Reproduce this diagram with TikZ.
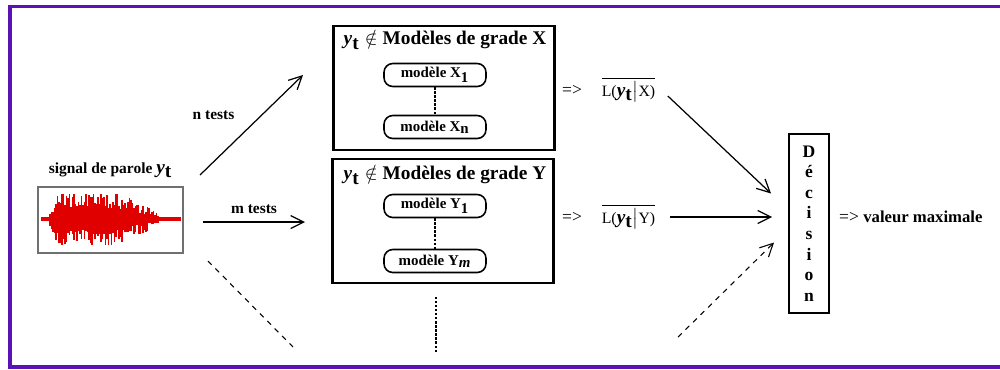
\documentclass[tikz,border=0pt]{standalone}
\usepackage{fontspec}
\setmainfont{Liberation Serif}
\usepackage{tikz}
\usetikzlibrary{
  arrows.meta,
  positioning,
  calc
}
\definecolor{FramePurple}{HTML}{5A12B6}
\definecolor{SignalRed}{HTML}{E00000}
\definecolor{SignalGray}{HTML}{707070}
\newcommand{\yt}{\textbf{\textit{y}}$_{\textbf{t}}$}
\tikzset{
  gradebox/.style={
    draw,
    line width=1.4pt,
    minimum width=4.42cm,
    minimum height=2.48cm
  },
  gradetitle/.style={
    font=\bfseries\fontsize{11}{13}\selectfont,
    inner sep=0pt
  },
  modele/.style={
    draw,
    rounded corners=5pt,
    line width=0.9pt,
    minimum width=2.04cm,
    minimum height=0.46cm,
    inner sep=0pt,
    font=\bfseries\fontsize{8.5}{10}\selectfont
  },
  signalbox/.style={
    draw=SignalGray,
    line width=0.8pt,
    minimum width=2.9cm,
    minimum height=1.32cm
  },
  decision/.style={
    draw,
    line width=1.1pt,
    minimum width=0.8cm,
    minimum height=3.58cm,
    align=center,
    font=\bfseries\fontsize{10}{11.75}\selectfont
  },
  label/.style={
    font=\bfseries\fontsize{8.8}{10}\selectfont
  },
  wave/.style={
    SignalRed,
    line width=0.9pt
  },
  link/.style={
    -{Straight Barb[length=2.6mm,width=2.6mm]},
    line width=0.7pt
  },
  suite/.style={
    dashed,
    line width=0.6pt
  },
  points/.style={
    densely dotted,
    line width=1.3pt
  }
}

\begin{document}
\begin{tikzpicture}[x=0.02cm,y=-0.02cm,font=\fontsize{10}{12}\selectfont]

  \useasboundingbox (0,0) rectangle (1000,369);

  \draw[FramePurple, line width=2.2pt]
  (1010,6.5) -- (10,6.5) -- (10,367) -- (1010,367);

  \node[signalbox] at (110.5,220) (sig) {};

  \node[
    label,
    above=0.5mm of sig
  ] (sigtitle) {
    signal de parole \fontsize{11}{12}\selectfont\yt
  };

  \draw[SignalRed, line width=1.8pt]
  (41,219) -- (181,219);

  \pgfmathsetseed{11}
  \foreach \x in {50,51.5,...,158} {
    \pgfmathsetmacro{\env}{min(min((\x-48)*3.5, 30), (162-\x)*0.55+4)}
    \pgfmathsetmacro{\up}{min(25,\env*(0.35+0.65*rnd))}
    \pgfmathsetmacro{\dn}{min(26,\env*(0.35+0.65*rnd))}
    \draw[wave] (\x,219-\up) -- (\x,219+\dn);
  }

  \node[gradebox] at (444,88) (gradex) {};
  \node[gradebox] at (443,221) (gradey) {};

  \node[gradetitle] at (445,40) (titlex) {
    \yt\;$\notin$ Modèles de grade X
  };
  \node[gradetitle] at (445,175) (titley) {
    \yt\;$\notin$ Modèles de grade Y
  };

  \node[modele] at (435,75) (x1) {modèle X$_{\textbf{1}}$};
  \node[modele] at (435,127) (xn) {modèle X$_{\textbf{n}}$};
  \node[modele] at (435,206) (y1) {modèle Y$_{\textbf{1}}$};
  \node[modele] at (435,261) (ym) {modèle Y$_{\textbf{\textit{m}}}$};

  \draw[points] (x1.south) -- (xn.north);
  \draw[points] (y1.south) -- (ym.north);

  \coordinate (autres) at (436,297);
  \coordinate (autresfin) at (436,352);
  \draw[points] (autres) -- (autresfin);

  \coordinate (ntestsdebut) at (200,175);
  \coordinate (ntestsfin) at (303,75);
  \coordinate (mtestsdebut) at (203,222);
  \coordinate (mtestsfin) at (305,222);
  \coordinate (suitedebut) at (208,261);
  \coordinate (suitefin) at (293,347);

  \draw[link]
  (ntestsdebut) --
  node[
    label,
    pos=0.6,
    left=0.42cm
  ] {
    n tests
  }
  (ntestsfin);

  \draw[link]
  (mtestsdebut) --
  node[
    label,
    above=1pt
  ] {
    m tests
  }
  (mtestsfin);

  \draw[suite] (suitedebut) -- (suitefin);

  \node at (572,90) (impx) {=>};
  \node[right=0.15cm of impx] (lx) {
    $\overline{\mbox{\fontsize{9}{10}\selectfont L(}\mbox{\fontsize{11}{12}\selectfont\yt}\big|\mbox{\fontsize{9}{10}\selectfont X)}}$
  };

  \node at (572,217) (impy) {=>};
  \node[right=0.15cm of impy] (ly) {
    $\overline{\mbox{\fontsize{9}{10}\selectfont L(}\mbox{\fontsize{11}{12}\selectfont\yt}\big|\mbox{\fontsize{9}{10}\selectfont Y)}}$
  };

  \node[decision] at (809,223.5) (dec) {
    D\\é\\c\\i\\s\\i\\o\\n
  };

  \node[
    anchor=west,
    xshift=0.06cm
  ] at (dec.east |- ly) (res) {
    => \textbf{\fontsize{9.5}{11}\selectfont valeur maximale}
  };

  \draw[link, shorten <=5pt]
  (lx.east) --
  ($(dec.west)+(-17,-30)$);

  \draw[link, shorten <=5pt, shorten >=0.32cm]
  (ly.east) --
  (ly.east -| dec.west);

  \coordinate (suitedec) at (678,337);
  \draw[link, suite]
  (suitedec) --
  ($(dec.west)+(-14,19)$);

\end{tikzpicture}
\end{document}
